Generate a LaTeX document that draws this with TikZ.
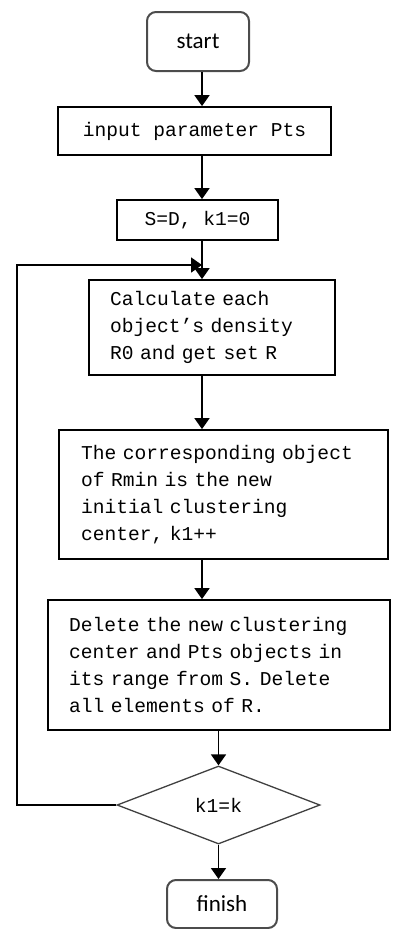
\documentclass[tikz,border=0pt]{standalone}
\usepackage{fontspec}
\setmainfont{Liberation Mono}
\newfontfamily\termfont{Carlito}
\usetikzlibrary{shapes.geometric,arrows.meta}

\tikzset{
	stepbox/.style={draw, line width=1.8pt, inner sep=0pt, align=left},
	termbox/.style={draw=black!70, line width=2pt, rounded corners=9pt, inner sep=0pt, font=\termfont\fontsize{23}{26}\selectfont},
	testbox/.style={diamond, draw=black!75, line width=1.3pt, inner sep=0pt},
	arr/.style={line width=1.8pt, -{Triangle[width=15pt,length=11pt]}}
}

\begin{document}
\begin{tikzpicture}[x=1pt, y=-1pt, font=\fontsize{19.6}{27}\selectfont]
				\useasboundingbox (0,0) rectangle (392,929);
				\coordinate (col) at (202,0);
				\coordinate (edge) at (17,265);
				\coordinate (join) at (202,265);

				\node[termbox, minimum width=102pt, minimum height=59pt] (start) at (198,41.5) {start};
				\node[stepbox, minimum width=273pt, minimum height=48pt] (input) at (194.5,131) {input parameter Pts};
				\node[stepbox, minimum width=161pt, minimum height=40pt] (init) at (197.5,220) {S=D, k1=0};
				\node[stepbox, text width=204pt, inner xsep=21pt, minimum height=95pt] (calc) at (212,327.5) {Calculate each\\object’s density\\R0 and get set R};
				\node[stepbox, text width=285pt, inner xsep=22pt, minimum height=129pt] (rmin) at (223.5,494.5) {The corresponding object\\of Rmin is the new\\initial clustering\\center, k1++};
				\node[stepbox, text width=300pt, inner xsep=21pt, minimum height=130pt] (delete) at (219,665) {Delete the new clustering\\center and Pts objects in\\its range from S. Delete\\all elements of R.};
				\node[testbox, minimum width=203pt, minimum height=78pt] (check) at (218.5,805) {k1=k};
				\node[termbox, minimum width=110pt, minimum height=48pt] (finish) at (222,904) {finish};

				\foreach \a/\b in {start/input, input/init, init/calc, calc/rmin, rmin/delete}{
						\draw[arr] (col |- \a.south) -- (col |- \b.north);
					}
				\draw[arr] (check.north |- delete.south) -- (check.north);
				\draw[arr] (check.south) -- (check.south |- finish.north);
				\draw[arr] (check.west) -- (check.west -| edge) -- (edge) -- (join);
			\end{tikzpicture}
\end{document}
